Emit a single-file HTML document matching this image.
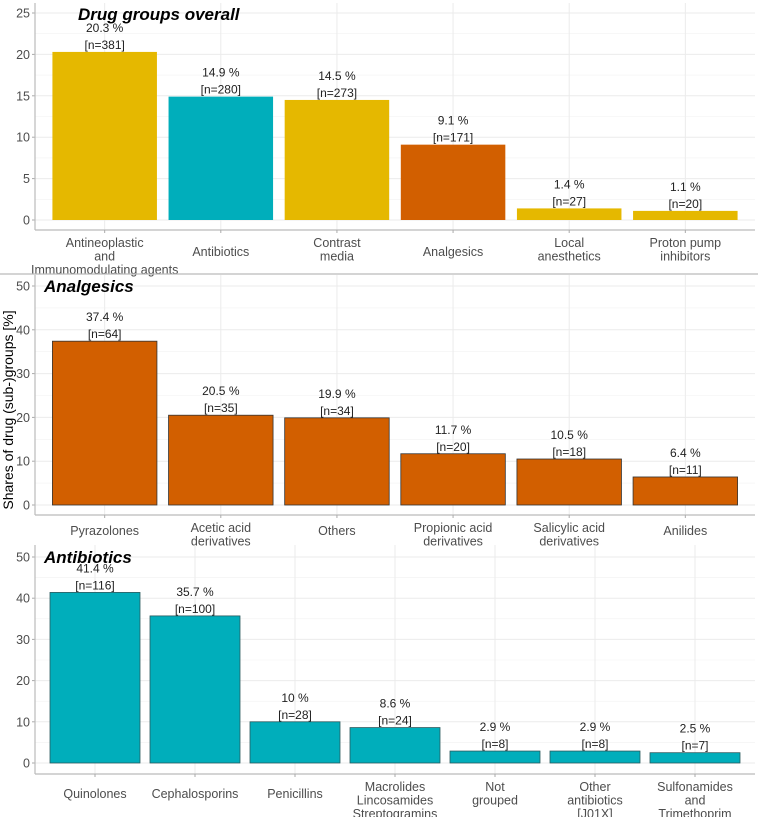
<!DOCTYPE html>
<html><head><meta charset="utf-8"><style>
body{margin:0;background:#fff}
svg{display:block;font-family:"Liberation Sans",sans-serif}
</style></head><body>
<svg id="c" width="758" height="817"></svg>
<script>
const catsOverall=["Antineoplastic|and|Immunomodulating agents","Antibiotics","Contrast|media","Analgesics","Local|anesthetics","Proton pump|inhibitors"];
const valsOverall=[20.3,14.9,14.5,9.1,1.4,1.1];
const nOverall=[381,280,273,171,27,20];
const colOverall=["#E5B800","#00AEBB","#E5B800","#D25F00","#E5B800","#E5B800"];
const catsAnalg=["Pyrazolones","Acetic acid|derivatives","Others","Propionic acid|derivatives","Salicylic acid|derivatives","Anilides"];
const valsAnalg=[37.4,20.5,19.9,11.7,10.5,6.4];
const nAnalg=[64,35,34,20,18,11];
const catsAntib=["Quinolones","Cephalosporins","Penicillins","Macrolides|Lincosamides|Streptogramins","Not|grouped","Other|antibiotics|[J01X]","Sulfonamides|and|Trimethoprim"];
const valsAntib=[41.4,35.7,10,8.6,2.9,2.9,2.5];
const nAntib=[116,100,28,24,8,8,7];
const ticksOverall=[0,5,10,15,20,25];
const ticks50=[0,10,20,30,40,50];

const svg=document.getElementById('c');
const NS='http://www.w3.org/2000/svg';
function mk(t,a,p){const e=document.createElementNS(NS,t);for(const k in a)e.setAttribute(k,a[k]);(p||svg).appendChild(e);return e;}

function panel(o){
  const g=mk('g',{});
  
  
  const L=35,R=755,n=o.cats.length,step=(R-L)/(n+0.2),bw=step*0.9;
  const x=i=>L+step*(0.6+i);
  const y=v=>o.y0-(v)*o.k;
  for(let i=0;i<o.ticks.length-1;i++){const m=(o.ticks[i]+o.ticks[i+1])/2;mk('line',{x1:L,x2:R,y1:y(m),y2:y(m),stroke:'#f2f2f2','stroke-width':0.6},g);}
  o.ticks.forEach(t=>{mk('line',{x1:L,x2:R,y1:y(t),y2:y(t),stroke:'#ebebeb','stroke-width':1},g);
    const tl=mk('text',{x:L-5,y:y(t)+4.5,'text-anchor':'end','font-size':12.5,fill:'#4d4d4d'},g);tl.textContent=t;
    
    mk('line',{x1:L-3,x2:L,y1:y(t),y2:y(t),stroke:'#aaa'},g);});
  o.cats.forEach((c,i)=>mk('line',{x1:x(i),x2:x(i),y1:o.top,y2:o.bottom,stroke:'#ebebeb'},g));
  mk('line',{x1:L,x2:L,y1:o.top,y2:o.bottom,stroke:'#bbb','stroke-width':1.2},g);
  mk('line',{x1:L,x2:R,y1:o.bottom,y2:o.bottom,stroke:'#bbb','stroke-width':1.2},g);
  o.vals.forEach((v,i)=>{
    const col=o.colors?o.colors[i]:o.color;
    const b=mk('rect',{x:x(i)-bw/2,y:y(v),width:bw,height:y(0)-y(v),fill:col,stroke:o.stroke||'none','stroke-width':0.8},g);
    
    
    const t1=mk('text',{x:x(i),y:y(v)-20,'text-anchor':'middle','font-size':12,fill:'#222'},g);t1.textContent=v+' %';
    
    const t2=mk('text',{x:x(i),y:y(v)-3,'text-anchor':'middle','font-size':12,fill:'#222'},g);t2.textContent='[n='+o.ns[i]+']';
    
    mk('line',{x1:x(i),x2:x(i),y1:o.bottom,y2:o.bottom+3,stroke:'#aaa'},g);
    const lines=o.cats[i].split('|');
    const base=o.bottom+ (lines.length===1? (o.single||20):17);
    lines.forEach((ln,j)=>{const t=mk('text',{x:x(i),y:base+j*13.5,'text-anchor':'middle','font-size':12.5,fill:'#4d4d4d'},g);t.textContent=ln;
      });
  });
  const tt=mk('text',{x:o.tx,y:o.ty,'font-size':17,'font-weight':'bold','font-style':'italic',fill:'#000'},g);tt.textContent=o.title;
  
}
panel({name:'panel-overall',cats:catsOverall,vals:valsOverall,ns:nOverall,colors:colOverall,ticks:ticksOverall,max:25,y0:220,k:8.28,top:3,bottom:230,title:'Drug groups overall',tx:78,ty:20,single:26});
mk('line',{x1:0,x2:758,y1:274,y2:274,stroke:'#bbb','stroke-width':1.2});
panel({name:'panel-analgesics',cats:catsAnalg,vals:valsAnalg,ns:nAnalg,color:'#D25F00',stroke:'#333',ticks:ticks50,max:50,y0:505,k:4.38,top:275,bottom:515,title:'Analgesics',tx:44,ty:292,single:20});
panel({name:'panel-antibiotics',cats:catsAntib,vals:valsAntib,ns:nAntib,color:'#00AEBB',stroke:'#2a5a5e',ticks:ticks50,max:50,y0:763,k:4.12,top:545,bottom:774,title:'Antibiotics',tx:44,ty:563,single:24});
const yt=mk('text',{x:0,y:0,'text-anchor':'middle','font-size':14,fill:'#000',transform:'translate(13,410) rotate(-90)'});
yt.textContent='Shares of drug (sub-)groups [%]';


</script>
</body></html>
